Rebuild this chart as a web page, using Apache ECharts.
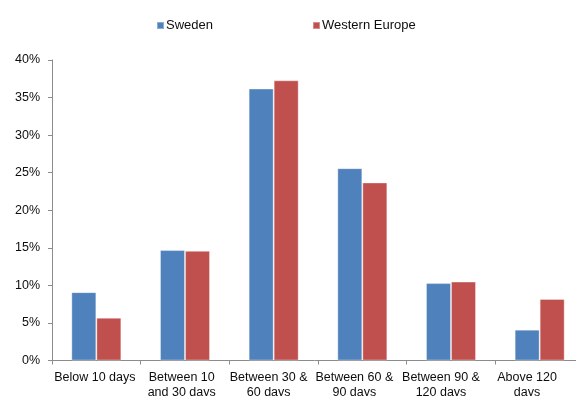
<!DOCTYPE html>
<html>
<head>
<meta charset="utf-8">
<style>
  html, body { margin: 0; padding: 0; background: #ffffff; }
  #chart { width: 576px; height: 396px; }
</style>
<script src="https://cdn.jsdelivr.net/npm/echarts@6/dist/echarts.min.js"></script>
</head>
<body>
<div id="chart"></div>
<script>
// Payment delay buckets
const categories = [
  'Below 10 days',
  'Between 10\nand 30 days',
  'Between 30 &\n60 days',
  'Between 60 &\n90 days',
  'Between 90 &\n120 days',
  'Above 120\ndays'
];
const seriesNames = ['Sweden', 'Western Europe'];
const sweden = [9.1, 14.7, 36.2, 25.6, 10.3, 4.1];
const westernEurope = [5.7, 14.6, 37.3, 23.7, 10.5, 8.2];
const yTicks = { min: 0, max: 40, step: 5 };

// small leftward nudge of each category label (px)
const labelShift = [1.5, 3.3, 5, 8, 10, 12.6];

const rich = {};
labelShift.forEach((s, i) => {
  rich['c' + i] = {
    fontFamily: 'Liberation Sans, Arial, sans-serif',
    fontSize: 12.5,
    color: '#0d0d0d',
    lineHeight: 15,
    padding: [0, s * 2, 0, 0]
  };
});

const chart = echarts.init(document.getElementById('chart'), null, { renderer: 'canvas' });

chart.setOption({
  animation: false,
  backgroundColor: '#ffffff',
  textStyle: { fontFamily: 'Liberation Sans, Arial, sans-serif' },
  legend: {
    data: seriesNames,
    top: 14,
    left: 151,
    icon: 'rect',
    itemWidth: 7,
    itemHeight: 7,
    itemGap: 99,
    textStyle: { fontSize: 13, color: '#0d0d0d', padding: [0, 0, 0, -3] }
  },
  // plot area runs slightly past the right edge of the canvas
  grid: {
    left: 52, width: 532, top: 60, bottom: 35.5,
    containLabel: false,
    outerBoundsMode: 'none'
  },
  xAxis: {
    type: 'category',
    data: categories,
    axisLine: { lineStyle: { color: '#8c8c8c', width: 1 } },
    axisTick: { show: true, alignWithLabel: false, length: 4, lineStyle: { color: '#8c8c8c' } },
    axisLabel: {
      interval: 0,
      margin: 10,
      formatter: (value, idx) =>
        value.split('\n').map(line => '{c' + idx + '|' + line + '}').join('\n'),
      rich: rich
    }
  },
  yAxis: {
    type: 'value',
    min: yTicks.min,
    max: yTicks.max,
    interval: yTicks.step,
    axisLine: { show: true, lineStyle: { color: '#8c8c8c', width: 1 } },
    axisTick: { show: true, inside: false, length: 4, lineStyle: { color: '#8c8c8c' } },
    splitLine: { show: false },
    axisLabel: {
      formatter: '{value}%',
      fontSize: 12.5,
      color: '#0d0d0d',
      margin: 12
    }
  },
  series: [
    {
      name: seriesNames[0],
      type: 'bar',
      data: sweden,
      barGap: '0%',
      barCategoryGap: '43.6%',
      itemStyle: { color: '#4F81BD', borderColor: 'rgba(255,255,255,0.35)', borderWidth: 1 }
    },
    {
      name: seriesNames[1],
      type: 'bar',
      data: westernEurope,
      barGap: '0%',
      barCategoryGap: '43.6%',
      itemStyle: { color: '#C0504D', borderColor: 'rgba(255,255,255,0.35)', borderWidth: 1 }
    }
  ]
});
</script>
</body>
</html>
